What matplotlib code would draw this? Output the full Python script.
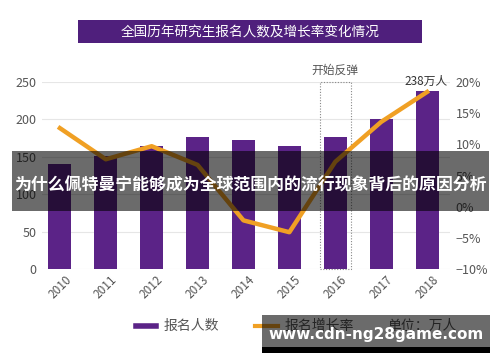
import matplotlib
matplotlib.use("Agg")
import matplotlib.pyplot as plt
from matplotlib.patches import Rectangle
from matplotlib.lines import Line2D

plt.rcParams['font.family'] = ['Noto Sans CJK SC', 'DejaVu Sans']

years = ['2010', '2011', '2012', '2013', '2014', '2015', '2016', '2017', '2018']
applicants = [140, 151, 165, 176, 172, 165, 177, 201, 238]
growth = [12.6, 7.6, 9.7, 6.7, -2.2, -4.1, 7.2, 13.6, 18.4]
left_ticks = [0, 50, 100, 150, 200, 250]
right_ticks = [-10, -5, 0, 5, 10, 15, 20]
title = '全国历年研究生报名人数及增长率变化情况'
overlay_text = '为什么佩特曼宁能够成为全球范围内的流行现象背后的原因分析'
watermark = 'www.cdn-ng28game.com'

W, H = 500, 362
purple = '#5b2387'
orange = '#f0a024'
grey_txt = '#555555'

fig = plt.figure(figsize=(W/100, H/100), dpi=100)
fig.patch.set_facecolor('white')

def fx(px):
    return px / W
def fy(py):
    return 1 - py / H

ax = fig.add_axes([fx(42), fy(269), (450-42)/W, (269-82)/H])
x = list(range(len(years)))
ax.bar(x, applicants, width=0.5, color=purple, zorder=2)
ax.set_xlim(-0.39, 8.5)
ax.set_ylim(0, 250)
ax.set_yticks(left_ticks)
ax.set_xticks(x)
ax.set_xticklabels(years, rotation=45, ha='center', fontsize=8.5, color=grey_txt)
ax.tick_params(axis='y', labelsize=9, colors=grey_txt, length=0, pad=4)
ax.tick_params(axis='x', length=0, pad=3)
ax.grid(axis='y', color='#e6e6e6', linewidth=0.8, zorder=0)
for s in ax.spines.values():
    s.set_visible(False)

ax2 = ax.twinx()
ax2.set_ylim(-10, 20)
ax2.set_yticks(right_ticks)
ax2.set_yticklabels([f'{t}%' if t >= 0 else f'\u2212{-t}%' for t in right_ticks])
ax2.tick_params(axis='y', labelsize=9, colors=grey_txt, length=0, pad=4)
for s in ax2.spines.values():
    s.set_visible(False)
ax2.plot(x, growth, color=orange, linewidth=3.2, solid_joinstyle='round', zorder=3)

# dotted box around 2016
ax.add_patch(Rectangle((6 - 0.34, 0), 0.68, 250, fill=False, edgecolor='#888888',
                       linestyle=(0, (1, 1.5)), linewidth=0.8, zorder=4, clip_on=False))
ax.text(6, 266, '开始反弹', ha='center', va='center', fontsize=8.5, color=grey_txt, clip_on=False)
ax.text(7.97, 251, '238万人', ha='center', va='center', fontsize=8.5, color='#333333', clip_on=False)

# title banner
fig.patches.append(Rectangle((fx(78), fy(43)), (422-78)/W, (43-20)/H, transform=fig.transFigure,
                             facecolor='#4f1f7c', edgecolor='none', zorder=1))
fig.text(fx(250), fy(32), title, ha='center', va='center', color='white', fontsize=9.8, zorder=2)

# legend
fig.lines.append(Line2D([fx(136), fx(156)], [fy(326), fy(326)], color=purple, linewidth=4,
                        transform=fig.transFigure))
fig.text(fx(164), fy(326), '报名人数', ha='left', va='center', fontsize=10, color=grey_txt)
fig.lines.append(Line2D([fx(255), fx(278)], [fy(326), fy(326)], color=orange, linewidth=3,
                        transform=fig.transFigure))
fig.text(fx(285), fy(326), '报名增长率', ha='left', va='center', fontsize=10, color=grey_txt)
fig.text(fx(387), fy(326), '单位：万人', ha='left', va='center', fontsize=10, color=grey_txt)

# overlay band
fig.patches.append(Rectangle((fx(12), fy(211)), (489-12)/W, (211-151)/H, transform=fig.transFigure,
                             facecolor='black', alpha=0.58, edgecolor='none', zorder=10))
fig.text(fx(250), fy(186), overlay_text, ha='center', va='center', color='white',
         fontsize=12.2, fontweight='bold', zorder=11)

# watermark
fig.patches.append(Rectangle((fx(262), fy(347)), (490-262)/W, (347-315)/H, transform=fig.transFigure,
                             facecolor='black', alpha=0.58, edgecolor='none', zorder=10))
fig.patches.append(Rectangle((fx(262), fy(353)), (490-262)/W, (353-347)/H, transform=fig.transFigure,
                             facecolor='black', edgecolor='none', zorder=10))
fig.text(fx(376), fy(335), watermark, ha='center', va='center', color='white',
         fontsize=11, fontweight='bold', family='DejaVu Sans', zorder=11)

fig.savefig('out.png', dpi=100)
